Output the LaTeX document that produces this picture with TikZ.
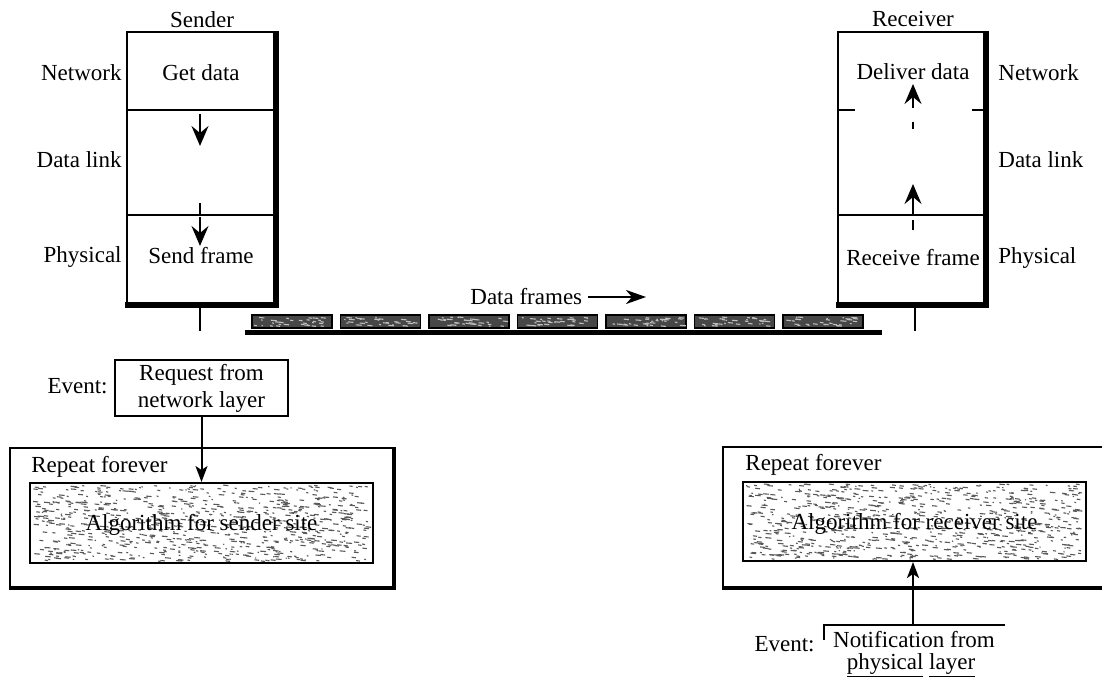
\documentclass[tikz,border=0pt]{standalone}
\usepackage{fontspec}
\setmainfont{Liberation Serif}
\usetikzlibrary{arrows.meta}

% random speckle texture inside a rectangle: x0, y0, x1, y1, count, colour
\newcommand\speckfill[6]{%
  \foreach \k in {1,...,#5}{%
    \pgfmathsetmacro\spx{#1+2+(#3-#1-8)*rnd}%
    \pgfmathsetmacro\spy{#2+2+(#4-#2-4)*rnd}%
    \pgfmathsetmacro\spl{1+5*rnd}%
    \draw[#6,line width=0.55pt] (\spx,\spy) -- ++(\spl,0.5);
  }%
}

\begin{document}
\begin{tikzpicture}[x=0.5pt,y=-0.5pt,
  lbl/.style={inner sep=0pt, font=\fontsize{11.5}{13}\selectfont},
  thinline/.style={line width=0.8pt},
  heavy/.style={line width=3pt},
  mediumheavy/.style={line width=2pt},
  smallhead/.style={-{Stealth[length=10pt,width=8.5pt,inset=3.5pt]}, line width=1.1pt},
  flowarrow/.style={-{Stealth[length=8pt,width=6pt,inset=2pt]}, line width=1pt},
  framebox/.style={draw=black, fill=black!72, line width=0.6pt},
  algobox/.style={draw=black, line width=1pt, inner sep=0pt, fill=white}
]
\useasboundingbox (0,0) rectangle (1102,681);
\pgfmathsetseed{4711}

% ---------------- sender stack ----------------
\node[lbl, anchor=base] (sendertitle) at (202,27) {Sender};
\draw[thinline] (127,32) rectangle (276,305);
\draw[thinline] (127,110) -- (276,110);
\draw[thinline] (127,215) -- (276,215);
\draw[heavy] (276,31) -- (276,305) -- (125,305);

\node[lbl, anchor=base east] (snetl) at (122,80) {Network};
\node[lbl, anchor=base east] (sdll)  at (122,167) {Data link};
\node[lbl, anchor=base east] (sphl)  at (122,262) {Physical};
\node[lbl, anchor=base] (sget)  at (201,80) {Get data};
\node[lbl, anchor=base] (ssend) at (201,263) {Send frame};

\coordinate (sa1s) at (200,114);  \coordinate (sa1e) at (200,146);
\coordinate (sa2s) at (200,217);  \coordinate (sa2e) at (200,246);
\draw[smallhead] (sa1s) -- (sa1e);
\draw[line width=1pt] (200,203) -- (200,215);
\draw[smallhead] (sa2s) -- (sa2e);
\coordinate (sstubA) at (200,308); \coordinate (sstubB) at (200,331);
\draw[line width=1.2pt] (sstubA) -- (sstubB);

% ---------------- receiver stack ----------------
\node[lbl, anchor=base] (receivertitle) at (913,26) {Receiver};
\draw[thinline] (838,32) rectangle (986,305);
\draw[thinline] (838,110) -- (855,110);
\draw[thinline] (972,110) -- (986,110);
\draw[thinline] (838,215) -- (986,215);
\draw[heavy] (986,31) -- (986,305) -- (836,305);

\node[lbl, anchor=base west] (rnetl) at (998,80) {Network};
\node[lbl, anchor=base west] (rdll)  at (998,167) {Data link};
\node[lbl, anchor=base west] (rphl)  at (998,263) {Physical};
\node[lbl, anchor=base] (rdeliver) at (913,79) {Deliver data};
\node[lbl, anchor=base] (rrecv)    at (913,265) {Receive frame};

\coordinate (ra1s) at (913,108); \coordinate (ra1e) at (913,84);
\coordinate (ra2s) at (913,215); \coordinate (ra2e) at (913,184);
\draw[smallhead] (ra1s) -- (ra1e);
\draw[line width=1pt] (913,122) -- (913,129);
\draw[smallhead] (ra2s) -- (ra2e);
\draw[line width=1pt] (913,220) -- (913,230);
\coordinate (rstubA) at (915,308); \coordinate (rstubB) at (915,331);
\draw[line width=1.2pt] (rstubA) -- (rstubB);

% ---------------- link with frames ----------------
\node[lbl, anchor=base west] (dftext) at (470,304) {Data frames};
\coordinate (dfa) at (588,297); \coordinate (dfb) at (646,297);
\draw[-{Stealth[length=10pt,width=7pt,inset=3pt]}, line width=1.1pt] (dfa) -- (dfb);
\foreach \i in {0,...,6}{
  \pgfmathsetmacro\fx{252+88.5*\i}
  \draw[framebox] (\fx,315) rectangle ({\fx+80},328);
  \speckfill{\fx}{315}{\fx+80}{328}{30}{white!75!black}
}
\coordinate (linkL) at (245,332); \coordinate (linkR) at (882,332);
\draw[line width=2.5pt] (linkL) -- (linkR);

% ---------------- sender algorithm ----------------
\node[draw, thinline, minimum width=86.5pt, minimum height=28pt, inner sep=0pt,
      align=center, font=\fontsize{11.5}{13.5}\selectfont] (req) at (201.5,388)
      {Request from\\network layer};
\node[lbl, anchor=base east] (sevent) at (108,393) {Event:};

\draw[thinline] (10,448) rectangle (394,588);
\draw[mediumheavy] (394,447) -- (394,588) -- (9,588);
\node[lbl, anchor=base west] (srep) at (31,472) {Repeat forever};
\fill[white] (30,483) rectangle (373,563);
\speckfill{30}{483}{373}{563}{800}{black!65}
\node[algobox, fill=none, minimum width=171.5pt, minimum height=40pt] (salg) at (201.5,523) {};
\node[lbl, anchor=base] (salgtext) at (201.5,530) {Algorithm for sender site};
\draw[flowarrow] (req.south) -- (salg.north);

% ---------------- receiver algorithm ----------------
\draw[thinline] (1102,447) -- (723,447) -- (723,588);
\draw[mediumheavy] (722,588) -- (1102,588);
\node[lbl, anchor=base west] (rrep) at (745,470) {Repeat forever};
\fill[white] (743,482) rectangle (1086,561);
\speckfill{743}{482}{1086}{561}{800}{black!65}
\node[algobox, fill=none, minimum width=171.5pt, minimum height=39.5pt] (ralg) at (914.5,521.5) {};
\node[lbl, anchor=base] (ralgtext) at (914.5,529) {Algorithm for receiver site};

\coordinate (ntop) at (913,625);
\draw[thinline] (824,640) -- (824,625) -- (1005,625);
\node[lbl, anchor=base] (notif1) at (914,647) {Notification from};
\node[lbl, anchor=base] (notif2) at (911,669) {\underline{physical} \underline{layer}};
\node[lbl, anchor=base east] (revent) at (815,651) {Event:};
\draw[flowarrow] (ntop) -- (ralg.south -| ntop);

\end{tikzpicture}
\end{document}
